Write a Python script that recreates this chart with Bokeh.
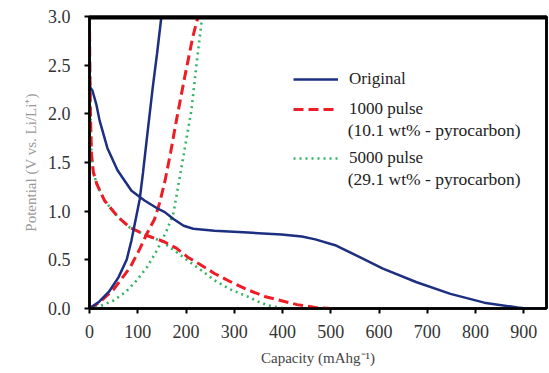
from bokeh.plotting import figure
from bokeh.models import (Range1d, Legend, LegendItem, Label, PrintfTickFormatter,
                          FixedTicker, LinearAxis, Span)
from bokeh.embed import file_html
from bokeh.resources import INLINE

# ---- data (capacity mAh/g, potential V) ----
orig_dis_cap = [0, 0.5, 6, 14, 21, 37, 58, 87, 114, 140, 156, 174, 195, 215, 259, 328, 398, 440, 468, 509, 559, 608, 678, 748, 818, 887, 905, 945]
orig_dis_v = [3.0, 2.28, 2.24, 2.10, 1.93, 1.65, 1.42, 1.21, 1.11, 1.03, 0.99, 0.92, 0.85, 0.82, 0.80, 0.78, 0.76, 0.74, 0.71, 0.65, 0.53, 0.41, 0.27, 0.15, 0.06, 0.01, 0.0, 0.0]
orig_chg_cap = [0, 20, 40, 60, 77, 87, 95, 104, 111, 118, 131, 140, 149]
orig_chg_v = [0.0, 0.07, 0.17, 0.32, 0.50, 0.70, 0.90, 1.12, 1.40, 1.71, 2.27, 2.62, 3.0]

p1000_dis_cap = [0, 0.5, 2, 4, 8, 15, 31, 59, 84, 119, 153, 180, 203, 230, 259, 290, 329, 365, 398, 430, 468, 500]
p1000_dis_v = [3.0, 2.6, 2.0, 1.59, 1.40, 1.28, 1.11, 0.94, 0.83, 0.75, 0.69, 0.62, 0.53, 0.45, 0.36, 0.28, 0.19, 0.12, 0.08, 0.04, 0.01, 0.0]
p1000_chg_cap = [0, 20, 49, 84, 105, 119, 135, 145, 156, 168, 180, 197, 214, 225]
p1000_chg_v = [0.0, 0.06, 0.19, 0.42, 0.62, 0.77, 0.92, 1.08, 1.30, 1.60, 1.93, 2.37, 2.79, 3.0]

p5000_dis_cap = [0, 0.5, 2, 4, 8, 15, 31, 59, 84, 119, 150, 180, 210, 235, 259, 290, 329, 350, 371, 405]
p5000_dis_v = [3.0, 2.6, 2.0, 1.59, 1.40, 1.28, 1.11, 0.94, 0.83, 0.75, 0.69, 0.58, 0.47, 0.38, 0.29, 0.20, 0.12, 0.07, 0.03, 0.0]
p5000_chg_cap = [0, 20, 49, 75, 98, 120, 140, 160, 174, 193, 211, 222, 232, 236]
p5000_chg_v = [0.0, 0.02, 0.08, 0.17, 0.29, 0.43, 0.60, 0.80, 0.98, 1.52, 2.03, 2.52, 2.93, 3.0]

x_ticks = [0, 100, 200, 300, 400, 500, 600, 700, 800, 900]
y_ticks = [0.0, 0.5, 1.0, 1.5, 2.0, 2.5, 3.0]
x_max = 947
y_max = 3.0

legend_labels = ["Original", "1000 pulse", "5000 pulse"]
legend_sub = ["(10.1 wt% - pyrocarbon)", "(29.1 wt% - pyrocarbon)"]

BLUE = "#1c2f80"
RED = "#ee1c24"
GREEN = "#33b465"
FONT = "Liberation Serif"

p = figure(width=549, height=373, output_backend="svg", toolbar_location=None,
           x_range=Range1d(0, x_max), y_range=Range1d(0, y_max),
           min_border_left=89, min_border_right=3, min_border_top=16, min_border_bottom=65)
p.title.visible = False
p.grid.visible = False
p.outline_line_color = "black"
p.outline_line_width = 2.5
p.background_fill_color = "white"
p.border_fill_color = "white"

xa = p.below[0]
ya = p.left[0]

g_d = p.line(p5000_dis_cap, p5000_dis_v, line_color=GREEN, line_width=2.6, line_dash="2 4")
g_c = p.line(p5000_chg_cap, p5000_chg_v, line_color=GREEN, line_width=2.6, line_dash="2 4")
r_d = p.line(p1000_dis_cap, p1000_dis_v, line_color=RED, line_width=3, line_dash="10 5")
r_c = p.line(p1000_chg_cap, p1000_chg_v, line_color=RED, line_width=3, line_dash="10 5")
b_d = p.line(orig_dis_cap, orig_dis_v, line_color=BLUE, line_width=2.5)
b_c = p.line(orig_chg_cap, orig_chg_v, line_color=BLUE, line_width=2.5)

# top edge of the frame, drawn just inside the frame
p.line([0, x_max], [y_max, y_max], line_color="black", line_width=6)
p.add_layout(Span(location=y_max - 0.012, dimension="width", line_color="black", line_width=2.5))

for ax in (xa, ya):
    ax.axis_line_color = "black"
    ax.axis_line_width = 2.5
    ax.major_tick_line_color = "black"
    ax.major_tick_line_width = 2
    ax.major_tick_out = 5
    ax.major_tick_in = 0
    ax.minor_tick_line_color = None
    ax.major_label_text_font = FONT
    ax.major_label_text_font_size = "18px"
    ax.major_label_text_color = "#333333"
    ax.axis_label_text_font = FONT
    ax.axis_label_text_font_style = "normal"
    ax.axis_label_text_font_size = "15px"

xa.ticker = FixedTicker(ticks=x_ticks)
ya.ticker = FixedTicker(ticks=y_ticks)
ya.formatter = PrintfTickFormatter(format="%.1f")
xa.major_label_standoff = 11
ya.major_label_standoff = 14
xa.axis_label = "Capacity (mAhg\u207b\u00b9)"
xa.axis_label_text_color = "#444444"
xa.axis_label_standoff = 9
ya.axis_label = "Potential (V vs. Li/Li\u207a)"
ya.axis_label_text_color = "#999999"
ya.axis_label_standoff = 6

# right edge of the frame as a bare axis
p.add_layout(LinearAxis(major_tick_line_color=None, minor_tick_line_color=None,
                        major_label_text_font_size="0px", axis_line_width=2.5,
                        axis_line_color="black", ticker=FixedTicker(ticks=[]),
                        major_label_standoff=0, major_tick_out=0), "right")

common = dict(border_line_color=None, background_fill_alpha=0, padding=0, margin=0,
              glyph_width=45, glyph_height=20, label_height=20, label_standoff=11,
              label_text_font=FONT, label_text_font_size="17px", label_text_color="#222222")
leg1 = Legend(items=[LegendItem(label=legend_labels[0], renderers=[b_d]),
                     LegendItem(label=legend_labels[1], renderers=[r_d])],
              location=(204, 189), spacing=10, **common)
leg2 = Legend(items=[LegendItem(label=legend_labels[2], renderers=[g_d])],
              location=(204, 140), spacing=0, **common)
p.add_layout(leg1)
p.add_layout(leg2)

for txt, yv in zip(legend_sub, [1.83, 1.33]):
    p.add_layout(Label(x=535, y=yv, text=txt, text_font=FONT, text_font_size="17.5px",
                       text_color="#222222", text_baseline="middle"))

open("out.html", "w").write(file_html(p, INLINE))
